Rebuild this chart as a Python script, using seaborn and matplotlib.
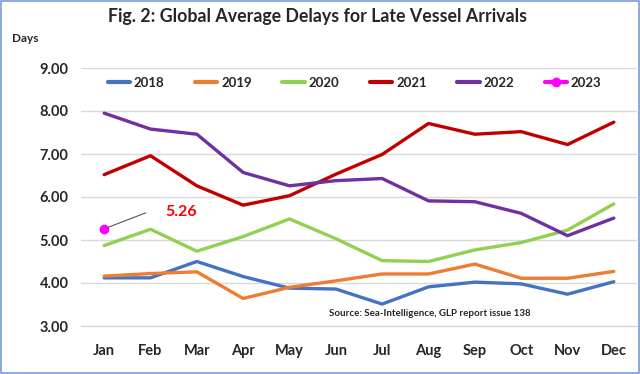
import pandas as pd
import matplotlib.pyplot as plt
import seaborn as sns
from matplotlib.lines import Line2D
from matplotlib.patches import Rectangle

# data
months = ["Jan", "Feb", "Mar", "Apr", "May", "Jun", "Jul", "Aug", "Sep", "Oct", "Nov", "Dec"]
d2018 = [4.12, 4.12, 4.50, 4.15, 3.88, 3.86, 3.51, 3.91, 4.02, 3.98, 3.74, 4.03]
d2019 = [4.16, 4.22, 4.26, 3.64, 3.90, 4.05, 4.21, 4.21, 4.44, 4.11, 4.11, 4.27]
d2020 = [4.87, 5.25, 4.74, 5.08, 5.49, 5.03, 4.52, 4.50, 4.77, 4.94, 5.23, 5.84]
d2021 = [6.52, 6.96, 6.26, 5.81, 6.03, 6.53, 6.99, 7.71, 7.46, 7.52, 7.22, 7.74]
d2022 = [7.95, 7.58, 7.46, 6.57, 6.26, 6.38, 6.43, 5.91, 5.89, 5.62, 5.10, 5.51]
d2023 = [5.26]

years = ["2018", "2019", "2020", "2021", "2022", "2023"]
colors = ["#4472C4", "#ED7D31", "#92D050", "#C00000", "#7030A0", "#FF00FF"]

rows = []
for yr, vals in zip(years[:5], [d2018, d2019, d2020, d2021, d2022]):
    for i, v in enumerate(vals):
        rows.append({"year": yr, "m": i, "days": v})
df = pd.DataFrame(rows)
df23 = pd.DataFrame({"year": "2023", "m": list(range(len(d2023))), "days": d2023})

sns.set_style("white")
plt.rcParams["font.family"] = ["Lato", "DejaVu Sans"]
plt.rcParams["font.weight"] = "bold"

fig = plt.figure(figsize=(6.4, 3.74), dpi=100)
ax = fig.add_axes([81 / 640, 1 - 326 / 374, 556 / 640, 258 / 374])

sns.lineplot(data=df, x="m", y="days", hue="year", palette=dict(zip(years, colors)),
             linewidth=2.4, legend=False, ax=ax)
sns.lineplot(data=df23, x="m", y="days", color=colors[5], marker="o", markersize=7,
             markeredgewidth=0, linewidth=2.4, legend=False, ax=ax)

ax.set_xlim(-0.5, 11.5)
ax.set_ylim(3, 9)
ax.set_yticks([3, 4, 5, 6, 7, 8, 9])
ax.set_yticklabels([f"{v:.2f}" for v in [3, 4, 5, 6, 7, 8, 9]], fontweight="bold")
ax.set_xticks(range(12))
ax.set_xticklabels(months, fontweight="bold")
ax.set_xticks([i - 0.5 for i in range(13)], minor=True)
ax.tick_params(axis="x", which="major", length=0, pad=13, labelsize=10.5)
ax.tick_params(axis="x", which="minor", direction="in", length=6, color="#D9D9D9", width=1)
ax.tick_params(axis="y", length=0, pad=9, labelsize=10.5)
ax.set_xlabel("")
ax.set_ylabel("")
ax.grid(axis="y", color="#D9D9D9", linewidth=1)
for s in ["top", "right", "left"]:
    ax.spines[s].set_visible(False)
ax.spines["bottom"].set_color("#D9D9D9")
ax.spines["bottom"].set_linewidth(1)

# 2023 label
ax.annotate("5.26", xy=(0, d2023[0]), xytext=(1.33, 5.64), color="#FF0000",
            fontsize=11.5, fontweight="bold", ha="left", va="center",
            arrowprops=dict(arrowstyle="-", color="#404040", lw=0.7, shrinkA=12, shrinkB=3,
                            connectionstyle="angle,angleA=0,angleB=21,rad=0"))

ax.text(0.446, 0.047, "Source: Sea-Intelligence, GLP report issue 138", transform=ax.transAxes,
        fontsize=7, fontweight="bold", ha="left", va="center")

handles = [Line2D([], [], color=c, lw=3) for c in colors[:5]]
handles.append(Line2D([], [], color=colors[5], lw=3, marker="o", markersize=7, markeredgewidth=0))
ax.legend(handles, years, ncol=6, frameon=False, loc="center", bbox_to_anchor=(0.492, 0.942),
          prop={"size": 9.5, "weight": "bold"}, handlelength=1.7, handletextpad=0.3,
          columnspacing=2.3)

fig.text(0.496, 0.955, "Fig. 2: Global Average Delays for Late Vessel Arrivals", ha="center", va="center",
         fontsize=12.8, fontweight="bold")
fig.text(12 / 640, 1 - 38 / 374, "Days", ha="left", va="center", fontsize=8.5, fontweight="bold")

fig.patches.append(Rectangle((0.001, 0.002), 0.997, 0.995, transform=fig.transFigure,
                             fill=False, edgecolor="#7A9CD6", linewidth=1.2))

fig.savefig("out.png", dpi=100)
